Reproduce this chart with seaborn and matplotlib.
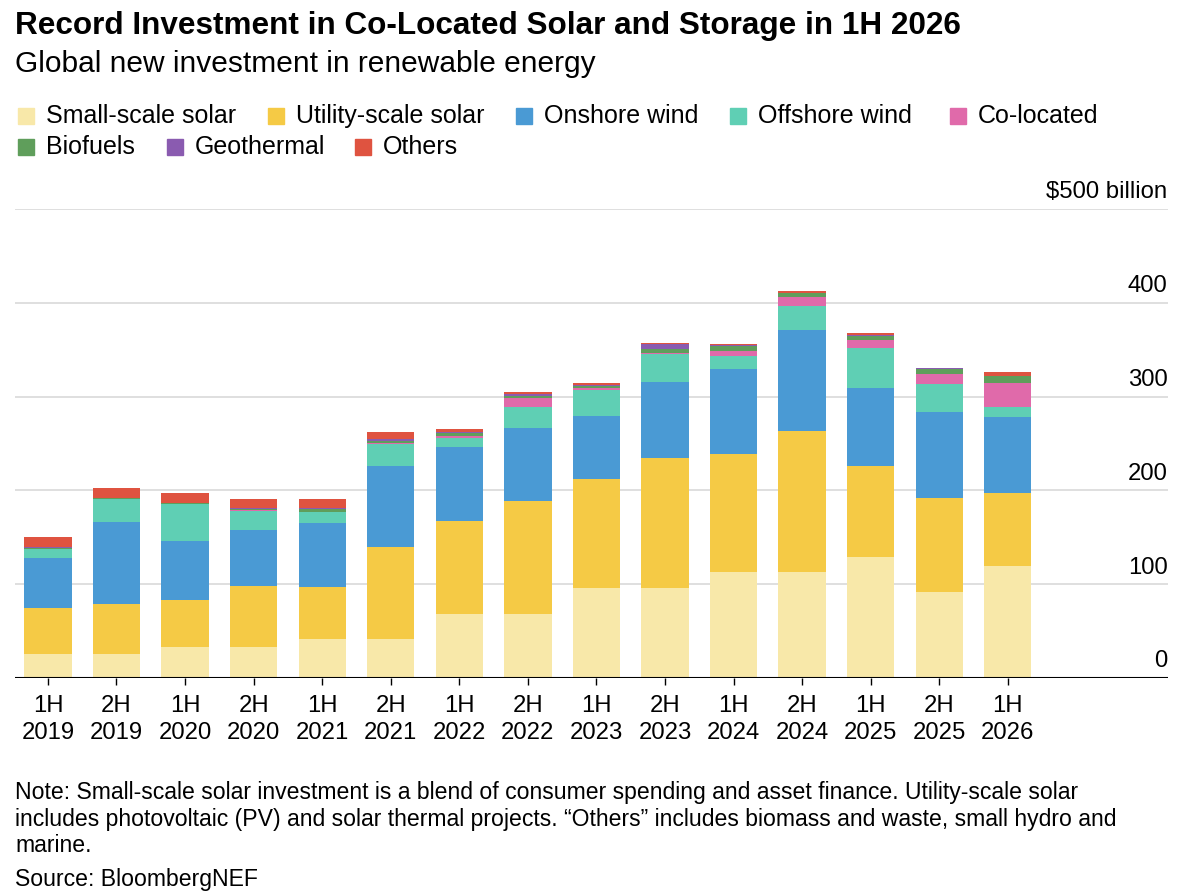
import matplotlib
matplotlib.use('Agg')
from matplotlib import pyplot as plt
from matplotlib.patches import Rectangle
import seaborn as sns
import numpy as np
import pandas as pd

periods = ['1H\n2019', '2H\n2019', '1H\n2020', '2H\n2020', '1H\n2021', '2H\n2021', '1H\n2022', '2H\n2022',
           '1H\n2023', '2H\n2023', '1H\n2024', '2H\n2024', '1H\n2025', '2H\n2025', '1H\n2026']
small_solar = [26, 26, 33, 33, 42, 42, 68, 68, 96, 96, 113, 113, 129, 92, 119]
utility_solar = [49, 52.5, 50, 65, 55, 98, 99, 121, 116, 139, 126, 150, 97, 100, 78]
onshore = [53, 87.5, 63, 60, 68, 86, 79, 78, 67, 81, 90, 108, 83, 92, 81]
offshore = [9.5, 24.5, 40, 20.5, 12, 24, 10, 22, 28, 29, 14, 26, 43, 29, 11]
colocated = [0, 0, 0, 1, 0, 1, 2, 9, 2, 2, 6, 9, 8, 11, 25]
biofuels = [1.5, 1, 1, 1, 3, 2, 3, 3, 2, 4, 5, 4, 5, 5, 8]
geothermal = [0.5, 0, 0, 1, 1, 2, 1, 2, 1, 5, 1, 1, 1, 1, 0.5]
others = [11, 11.5, 10, 9, 9.5, 7.5, 4, 2, 2, 1.5, 1.5, 2, 2, 1, 4]

series = ['Small-scale solar', 'Utility-scale solar', 'Onshore wind', 'Offshore wind', 'Co-located',
          'Biofuels', 'Geothermal', 'Others']
values = [small_solar, utility_solar, onshore, offshore, colocated, biofuels, geothermal, others]
colors = ['#F8E8A9', '#F5CA45', '#4A9AD4', '#5FCFB4', '#E06AAA', '#5F9E5B', '#8A5BB0', '#DF5340']
y_ticks = [0, 100, 200, 300, 400]

plt.rcParams['font.family'] = ['Liberation Sans', 'DejaVu Sans']

df = pd.DataFrame(dict(zip(series, values)))
df['period'] = periods
cum = df[series].cumsum(axis=1)

fig = plt.figure(figsize=(12, 8.96), dpi=100)
ax = fig.add_axes([0.0125, 0.2433, 0.9605, 0.5234])

# draw from the top layer down so each cumulative bar shows its own slice
for name, col in reversed(list(zip(series, colors))):
    sns.barplot(x=df['period'], y=cum[name], color=col, width=0.69, ax=ax,
                saturation=1, linewidth=0, order=periods)

ax.set_xlim(-0.48, 16.33)
ax.set_ylim(0, 500)
for v in y_ticks + [500]:
    ax.axhline(v, color='#d9d9d9', lw=1.2, zorder=0)
ax.axhline(0, color='black', lw=1.5, zorder=5)
ax.set_yticks([])
ax.set_xlabel('')
ax.set_ylabel('')
for s in ax.spines.values():
    s.set_visible(False)
ax.tick_params(axis='x', length=5, width=1, color='black', labelsize=17.2, pad=7)
ax.set_xticks(range(len(periods)))
ax.set_xticklabels(periods, linespacing=1.3)

for v in y_ticks:
    ax.text(1.0, v + 6, str(v), transform=ax.get_yaxis_transform(), ha='right', va='bottom', fontsize=17.2)
ax.text(1.0, 506, '$500 billion', transform=ax.get_yaxis_transform(), ha='right', va='bottom', fontsize=17.2)

fig.text(15 / 1200, 1 - 26 / 896, 'Record Investment in Co-Located Solar and Storage in 1H 2026',
         fontsize=22.7, fontweight='bold', va='center')
fig.text(15 / 1200, 1 - 64 / 896, 'Global new investment in renewable energy', fontsize=21.5, va='center')

# legend, laid out like the original flow
leg_pos = [(18, 116), (268, 116), (516, 116), (730, 116), (950, 116), (18, 147), (167, 147), (355, 147)]
for (px, py), name, col in zip(leg_pos, series, colors):
    fig.patches.append(Rectangle((px / 1200, 1 - (py + 8) / 896), 16 / 1200, 16 / 896,
                                 color=col, transform=fig.transFigure, figure=fig))
    fig.text((px + 28) / 1200, 1 - py / 896, name, fontsize=18, va='center')

fig.text(15 / 1200, 1 - 781 / 896,
         'Note: Small-scale solar investment is a blend of consumer spending and asset finance. Utility-scale solar\n'
         'includes photovoltaic (PV) and solar thermal projects. \u201cOthers\u201d includes biomass and waste, small hydro and\n'
         'marine.', fontsize=16.6, va='top', linespacing=1.2)
fig.text(15 / 1200, 1 - 879 / 896, 'Source: BloombergNEF', fontsize=16.6, va='center')

fig.savefig('out.png', dpi=100, facecolor='white')
